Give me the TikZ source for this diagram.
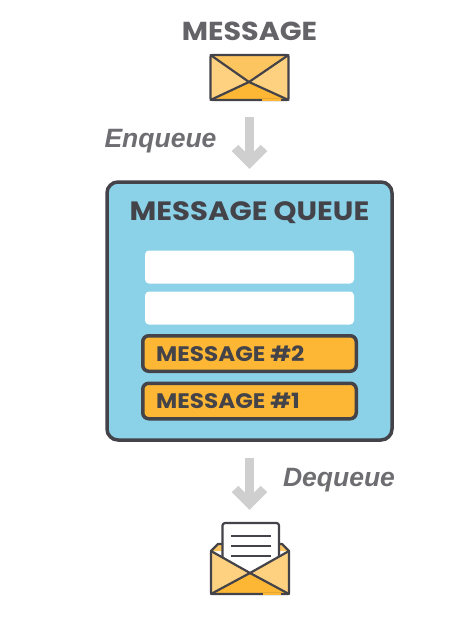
\documentclass[tikz,border=0pt]{standalone}
\usepackage{fontspec}
\setmainfont[FakeStretch=1.1]{Poppins}
\newfontfamily\armo{Liberation Sans}
\definecolor{ink}{HTML}{434349}
\definecolor{headgray}{HTML}{646468}
\definecolor{labgray}{HTML}{6E6E72}
\definecolor{arrowgray}{HTML}{CFCFCF}
\definecolor{sky}{HTML}{8BD2E8}
\definecolor{amber}{HTML}{FDB734}
\definecolor{amberlight}{HTML}{FDD17F}
\definecolor{ambermid}{HTML}{FDC55F}
\tikzset{
  x=1pt,y=-1pt,
  flowarrow/.style={line width=9pt,draw=arrowgray},
  flowhead/.style={line width=9pt,draw=arrowgray,miter limit=10},
  queuebox/.style={draw=ink,line width=3.5pt,rounded corners=11pt,fill=sky,minimum width=285pt,minimum height=258pt},
  slot/.style={fill=white,rounded corners=4pt,minimum width=209pt,minimum height=33pt},
  msgbox/.style={draw=ink,line width=3.5pt,rounded corners=6pt,fill=amber,minimum width=213.5pt,minimum height=35.5pt},
  msgtext/.style={font=\bfseries\fontsize{21}{23}\selectfont,text=ink,anchor=west,inner sep=0pt},
  head/.style={font=\bfseries\fontsize{26}{29}\selectfont,inner sep=0pt},
  lab/.style={font=\armo\bfseries\itshape\fontsize{26.5}{29}\selectfont,text=labgray,inner sep=0pt},
  envline/.style={draw=ink,line width=2.2pt,line join=round,line cap=round},
}
\begin{document}
\begin{tikzpicture}
\useasboundingbox (0,0) rectangle (474,618);
\fill[white] (0,0) rectangle (474,618);

\node[head,text=headgray] (title) at (249.5,31) {MESSAGE};

% closed envelope
\coordinate (ea) at (210.5,55);
\coordinate (eb) at (288.5,55);
\coordinate (ec) at (288.5,100);
\coordinate (ed) at (210.5,100);
\coordinate (em) at (249,82);
\fill[amberlight,rounded corners=1.5pt] (ea) rectangle (ec);
\fill[ambermid] (ea) -- (eb) -- (em) -- cycle;
\fill[amber] (ed) -- (em) -- (ec) -- cycle;
\draw[envline,rounded corners=1.5pt] (ea) rectangle (ec);
\draw[envline] (ea) -- (em) -- (eb) (ed) -- (em) -- (ec);
\draw[amber,line width=2.2pt] (262,100) -- (281,100);

% enqueue arrow
\coordinate (a1s) at (249.5,117);
\coordinate (a1e) at (249.5,162.6);
\draw[flowarrow] (a1s) -- (a1e);
\draw[flowhead] (235,148) -- (a1e) -- (264,148);
\node[lab] (enq) at (160.5,141) {Enqueue};

% queue
\node[queuebox] (queue) at (249.5,311) {};
\node[font=\bfseries\fontsize{26.5}{29}\selectfont,text=ink,inner sep=0pt] (qt) at (249.5,213) {MESSAGE QUEUE};
\node[slot] (s1) at (249.5,267) {};
\node[slot] (s2) at (249.5,308) {};
\node[msgbox] (m2) at (249.5,353.5) {};
\node[msgbox] (m1) at (249.5,401) {};
\node[msgtext] (m2t) at (156,354) {MESSAGE \#2};
\node[msgtext] (m1t) at (156,401) {MESSAGE \#1};

% dequeue arrow
\coordinate (a2s) at (249.5,458);
\coordinate (a2e) at (249.5,503.6);
\draw[flowarrow] (a2s) -- (a2e);
\draw[flowhead] (235,489) -- (a2e) -- (264,489);
\node[lab] (deq) at (339,480.5) {Dequeue};

% open envelope
\coordinate (oa) at (211,551);
\coordinate (ob) at (289,551);
\coordinate (oc) at (289,594);
\coordinate (od) at (211,594);
\coordinate (om) at (250,573);
\fill[ambermid] (oa) -- (218,544) -- (282,544) -- (ob) -- cycle;
\draw[envline] (oa) -- (218,544) -- (223,544) (ob) -- (282,544) -- (278,544);
\draw[envline,fill=white,rounded corners=2.5pt] (222.5,592) -- (222.5,523) -- (279,523) -- (279,592);
\draw[ink,line width=1.2pt] (231,536) -- (271,536) (231,546) -- (271,546) (231,556) -- (271,556);
\fill[amberlight] (oa) -- (om) -- (ob) -- (oc) -- (od) -- cycle;
\fill[amber] (od) -- (om) -- (oc) -- cycle;
\draw[envline,rounded corners=1pt] (oa) -- (od) -- (oc) -- (ob);
\draw[envline] (oa) -- (om) -- (ob) (od) -- (om) -- (oc);
\draw[amber,line width=2.2pt] (263,594) -- (281,594);
\end{tikzpicture}
\end{document}
